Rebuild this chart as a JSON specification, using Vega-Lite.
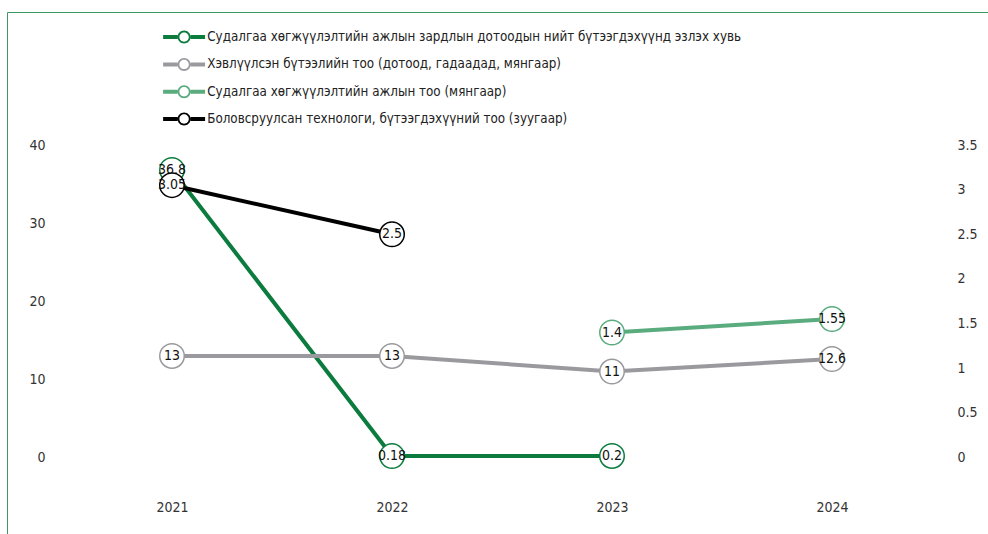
{
  "$schema": "https://vega.github.io/schema/vega-lite/v6.json",
  "width": 1001,
  "height": 542,
  "autosize": {"type": "none"},
  "padding": {"left": 7, "top": 12, "right": -20, "bottom": -20},
  "background": "white",
  "config": {
    "view": {"stroke": "#3a9a64", "strokeWidth": 1},
    "font": "Liberation Sans Narrow, DejaVu Sans Condensed, Roboto",
    "axis": {"grid": false, "domain": false, "ticks": false, "tickSize": 0, "labelFontSize": 14, "labelColor": "#333333", "labelFont": "Liberation Sans Narrow, DejaVu Sans Condensed, Roboto", "title": null}
  },
  "data": {
    "values": [
      {"year": 2021, "series": "Судалгаа хөгжүүлэлтийн ажлын зардлын дотоодын нийт бүтээгдэхүүнд эзлэх хувь", "value": 36.8, "side": "L"},
      {"year": 2022, "series": "Судалгаа хөгжүүлэлтийн ажлын зардлын дотоодын нийт бүтээгдэхүүнд эзлэх хувь", "value": 0.18, "side": "L"},
      {"year": 2023, "series": "Судалгаа хөгжүүлэлтийн ажлын зардлын дотоодын нийт бүтээгдэхүүнд эзлэх хувь", "value": 0.2, "side": "L"},
      {"year": 2021, "series": "Хэвлүүлсэн бүтээлийн тоо (дотоод, гадаадад, мянгаар)", "value": 13, "side": "L"},
      {"year": 2022, "series": "Хэвлүүлсэн бүтээлийн тоо (дотоод, гадаадад, мянгаар)", "value": 13, "side": "L"},
      {"year": 2023, "series": "Хэвлүүлсэн бүтээлийн тоо (дотоод, гадаадад, мянгаар)", "value": 11, "side": "L"},
      {"year": 2024, "series": "Хэвлүүлсэн бүтээлийн тоо (дотоод, гадаадад, мянгаар)", "value": 12.6, "side": "L"},
      {"year": 2023, "series": "Судалгаа хөгжүүлэлтийн ажлын тоо (мянгаар)", "value": 1.4, "side": "R"},
      {"year": 2024, "series": "Судалгаа хөгжүүлэлтийн ажлын тоо (мянгаар)", "value": 1.55, "side": "R"},
      {"year": 2021, "series": "Боловсруулсан технологи, бүтээгдэхүүний тоо (зуугаар)", "value": 3.05, "side": "R"},
      {"year": 2022, "series": "Боловсруулсан технологи, бүтээгдэхүүний тоо (зуугаар)", "value": 2.5, "side": "R"}
    ]
  },
  "encoding": {
    "x": {
      "field": "year", "type": "quantitative",
      "scale": {"domain": [2020.25, 2024.8], "nice": false, "zero": false},
      "axis": {"values": [2021, 2022, 2023, 2024], "labelExpr": "'' + datum.value", "orient": "bottom", "offset": -54, "labelPadding": 0, "labelDx": -3, "labelBaseline": "top"}
    },
    "color": {
      "field": "series", "type": "nominal",
      "scale": {
        "domain": [
          "Судалгаа хөгжүүлэлтийн ажлын зардлын дотоодын нийт бүтээгдэхүүнд эзлэх хувь",
          "Хэвлүүлсэн бүтээлийн тоо (дотоод, гадаадад, мянгаар)",
          "Судалгаа хөгжүүлэлтийн ажлын тоо (мянгаар)",
          "Боловсруулсан технологи, бүтээгдэхүүний тоо (зуугаар)"
        ],
        "range": ["#0b7c3e", "#9a999e", "#5aab7e", "#000000"]
      },
      "legend": {
        "title": null, "orient": "none", "legendX": 168.6, "legendY": 16.6, "direction": "vertical",
        "padding": 0, "rowPadding": 12.3, "labelOffset": 14.6, "labelFontSize": 13.3, "labelColor": "#222222",
        "labelFont": "Liberation Sans Narrow, DejaVu Sans Condensed, Roboto", "labelLimit": 0,
        "symbolSize": 282, "symbolStrokeWidth": 0,
        "symbolType": "M-2.5,-0.238H-0.774V0.238H-2.5Z M0.774,-0.238H2.5V0.238H0.774Z M-0.774,0A0.774,0.774 0 1,0 0.774,0A0.774,0.774 0 1,0 -0.774,0Z M-0.56,0A0.56,0.56 0 1,1 0.56,0A0.56,0.56 0 1,1 -0.56,0Z",
        "encode": {"symbols": {"update": {"fill": {"scale": "color", "field": "value"}, "stroke": {"value": "transparent"}, "opacity": {"value": 1}, "fillOpacity": {"value": 1}}}}
      }
    }
  },
  "layer": [
    {
      "transform": [{"filter": "datum.side === 'L'"}],
      "encoding": {
        "y": {"field": "value", "type": "quantitative",
          "scale": {"domain": [-12.352, 57.024], "nice": false, "zero": false},
          "axis": {"orient": "left", "values": [0, 10, 20, 30, 40], "labelExpr": "'' + datum.value", "offset": -38, "labelPadding": 0}}
      },
      "layer": [
        {"mark": {"type": "line", "strokeWidth": 4}},
        {"mark": {"type": "point", "filled": false, "fill": "white", "fillOpacity": 1, "opacity": 1, "size": 600, "strokeWidth": 1.5}},
        {"mark": {"type": "text", "fontSize": 14, "font": "Liberation Sans Narrow, DejaVu Sans Condensed, Roboto", "baseline": "middle", "align": "center"},
         "encoding": {"text": {"field": "value", "type": "nominal"}, "color": {"value": "#111111"}}}
      ]
    },
    {
      "transform": [{"filter": "datum.side === 'R'"}],
      "encoding": {
        "y": {"field": "value", "type": "quantitative",
          "scale": {"domain": [-1.0808, 4.9896], "nice": false, "zero": false},
          "axis": {"orient": "right", "values": [0, 0.5, 1, 1.5, 2, 2.5, 3, 3.5], "labelExpr": "'' + datum.value", "offset": -51, "labelPadding": 0}}
      },
      "layer": [
        {"mark": {"type": "line", "strokeWidth": 4}},
        {"mark": {"type": "point", "filled": false, "fill": "white", "fillOpacity": 1, "opacity": 1, "size": 600, "strokeWidth": 1.5}},
        {"mark": {"type": "text", "fontSize": 14, "font": "Liberation Sans Narrow, DejaVu Sans Condensed, Roboto", "baseline": "middle", "align": "center"},
         "encoding": {"text": {"field": "value", "type": "nominal"}, "color": {"value": "#111111"}}}
      ]
    }
  ],
  "resolve": {"scale": {"y": "independent"}}
}
